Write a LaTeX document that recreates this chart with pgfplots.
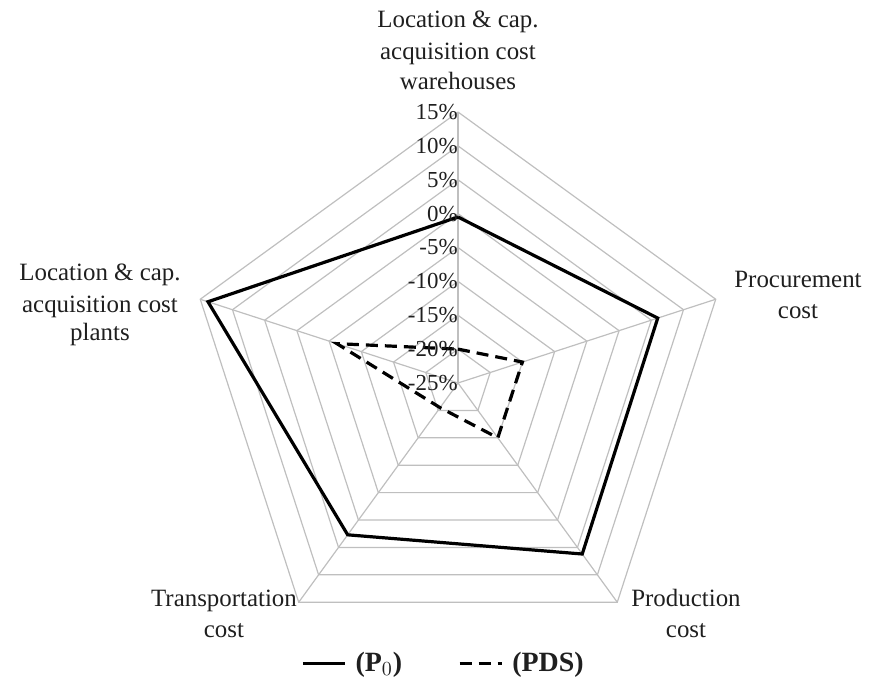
\documentclass[border=0pt]{standalone}
\usepackage{pgfplots}
\usepackage{pgfplotstable}
\pgfplotsset{compat=1.18}
\usepgfplotslibrary{polar}
\usepackage{fontspec}
\setmainfont{Liberation Serif}
\definecolor{gridc}{HTML}{BFBFBF}
\definecolor{txt}{HTML}{1F1F1F}

% angle (deg), value (%)
\pgfplotstableread{
ang val
90  -0.5
18  6.0
306 6.2
234 2.7
162 13.8
90  -0.5
}\tblP
\pgfplotstableread{
ang val
90  -20
18  -15
306 -15
234 -20.5
162 -6.2
90  -20
}\tblS

\begin{document}
\begin{tikzpicture}[x=0.5bp,y=0.5bp]
\begin{polaraxis}[
  scale only axis, width=271bp, height=271bp,
  xmin=0, xmax=360, ymin=0, ymax=40,
  hide axis, clip=false,
  legend columns=2,
  legend style={draw=none, fill=none, at={(0.475,-0.017)}, anchor=center,
    font=\fontsize{14}{16}\selectfont\bfseries, text=txt,
    /tikz/every odd column/.append style={column sep=2.5bp},
    /tikz/every even column/.append style={column sep=26bp}},
  legend image code/.code={\draw[#1] (0bp,0bp) -- (21bp,0bp);},
]
\pgfplotsinvokeforeach{5,10,...,40}{
  \addplot[gridc, line width=0.6bp, forget plot] coordinates {(90,#1) (18,#1) (306,#1) (234,#1) (162,#1) (90,#1)};
}
\pgfplotsinvokeforeach{90,18,306,234,162}{
  \addplot[gridc, line width=0.6bp, forget plot] coordinates {(#1,0) (#1,40)};
}
\addplot[black, line width=1.6bp, line join=miter] table[x=ang, y expr=\thisrow{val}+25] {\tblP};
\addlegendentry{(P$_0$)}
\addplot[black, line width=1.6bp, dash pattern=on 6bp off 3.5bp, line join=miter] table[x=ang, y expr=\thisrow{val}+25] {\tblS};
\addlegendentry{(PDS)}
\begin{scope}[every node/.style={anchor=east, inner sep=0pt, text=txt, font=\fontsize{11.5}{13}\selectfont}]
\node at (axis cs:90,0) {-25\%};
\node at (axis cs:90,5) {-20\%};
\node at (axis cs:90,10) {-15\%};
\node at (axis cs:90,15) {-10\%};
\node at (axis cs:90,20) {-5\%};
\node at (axis cs:90,25) {0\%};
\node at (axis cs:90,30) {5\%};
\node at (axis cs:90,35) {10\%};
\node at (axis cs:90,40) {15\%};
\end{scope}
\coordinate (C) at (axis cs:0,0);
\end{polaraxis}
\begin{scope}[shift={(C)}, every node/.style={anchor=base, inner sep=0pt, text=txt, font=\fontsize{12.5}{15}\selectfont}]
\node at (0,355) {Location \& cap.};
\node at (0,323) {acquisition cost};
\node at (0,293) {warehouses};
\node at (-358,102) {Location \& cap.};
\node at (-358,70) {acquisition cost};
\node at (-358,42) {plants};
\node at (340,95) {Procurement};
\node at (340,64) {cost};
\node at (-234,-224) {Transportation};
\node at (-234,-255) {cost};
\node at (228,-224) {Production};
\node at (228,-255) {cost};
\end{scope}
\pgfresetboundingbox
\path[use as bounding box] (C) ++(-458,-312) rectangle ++(872,695);
\end{tikzpicture}
\end{document}
